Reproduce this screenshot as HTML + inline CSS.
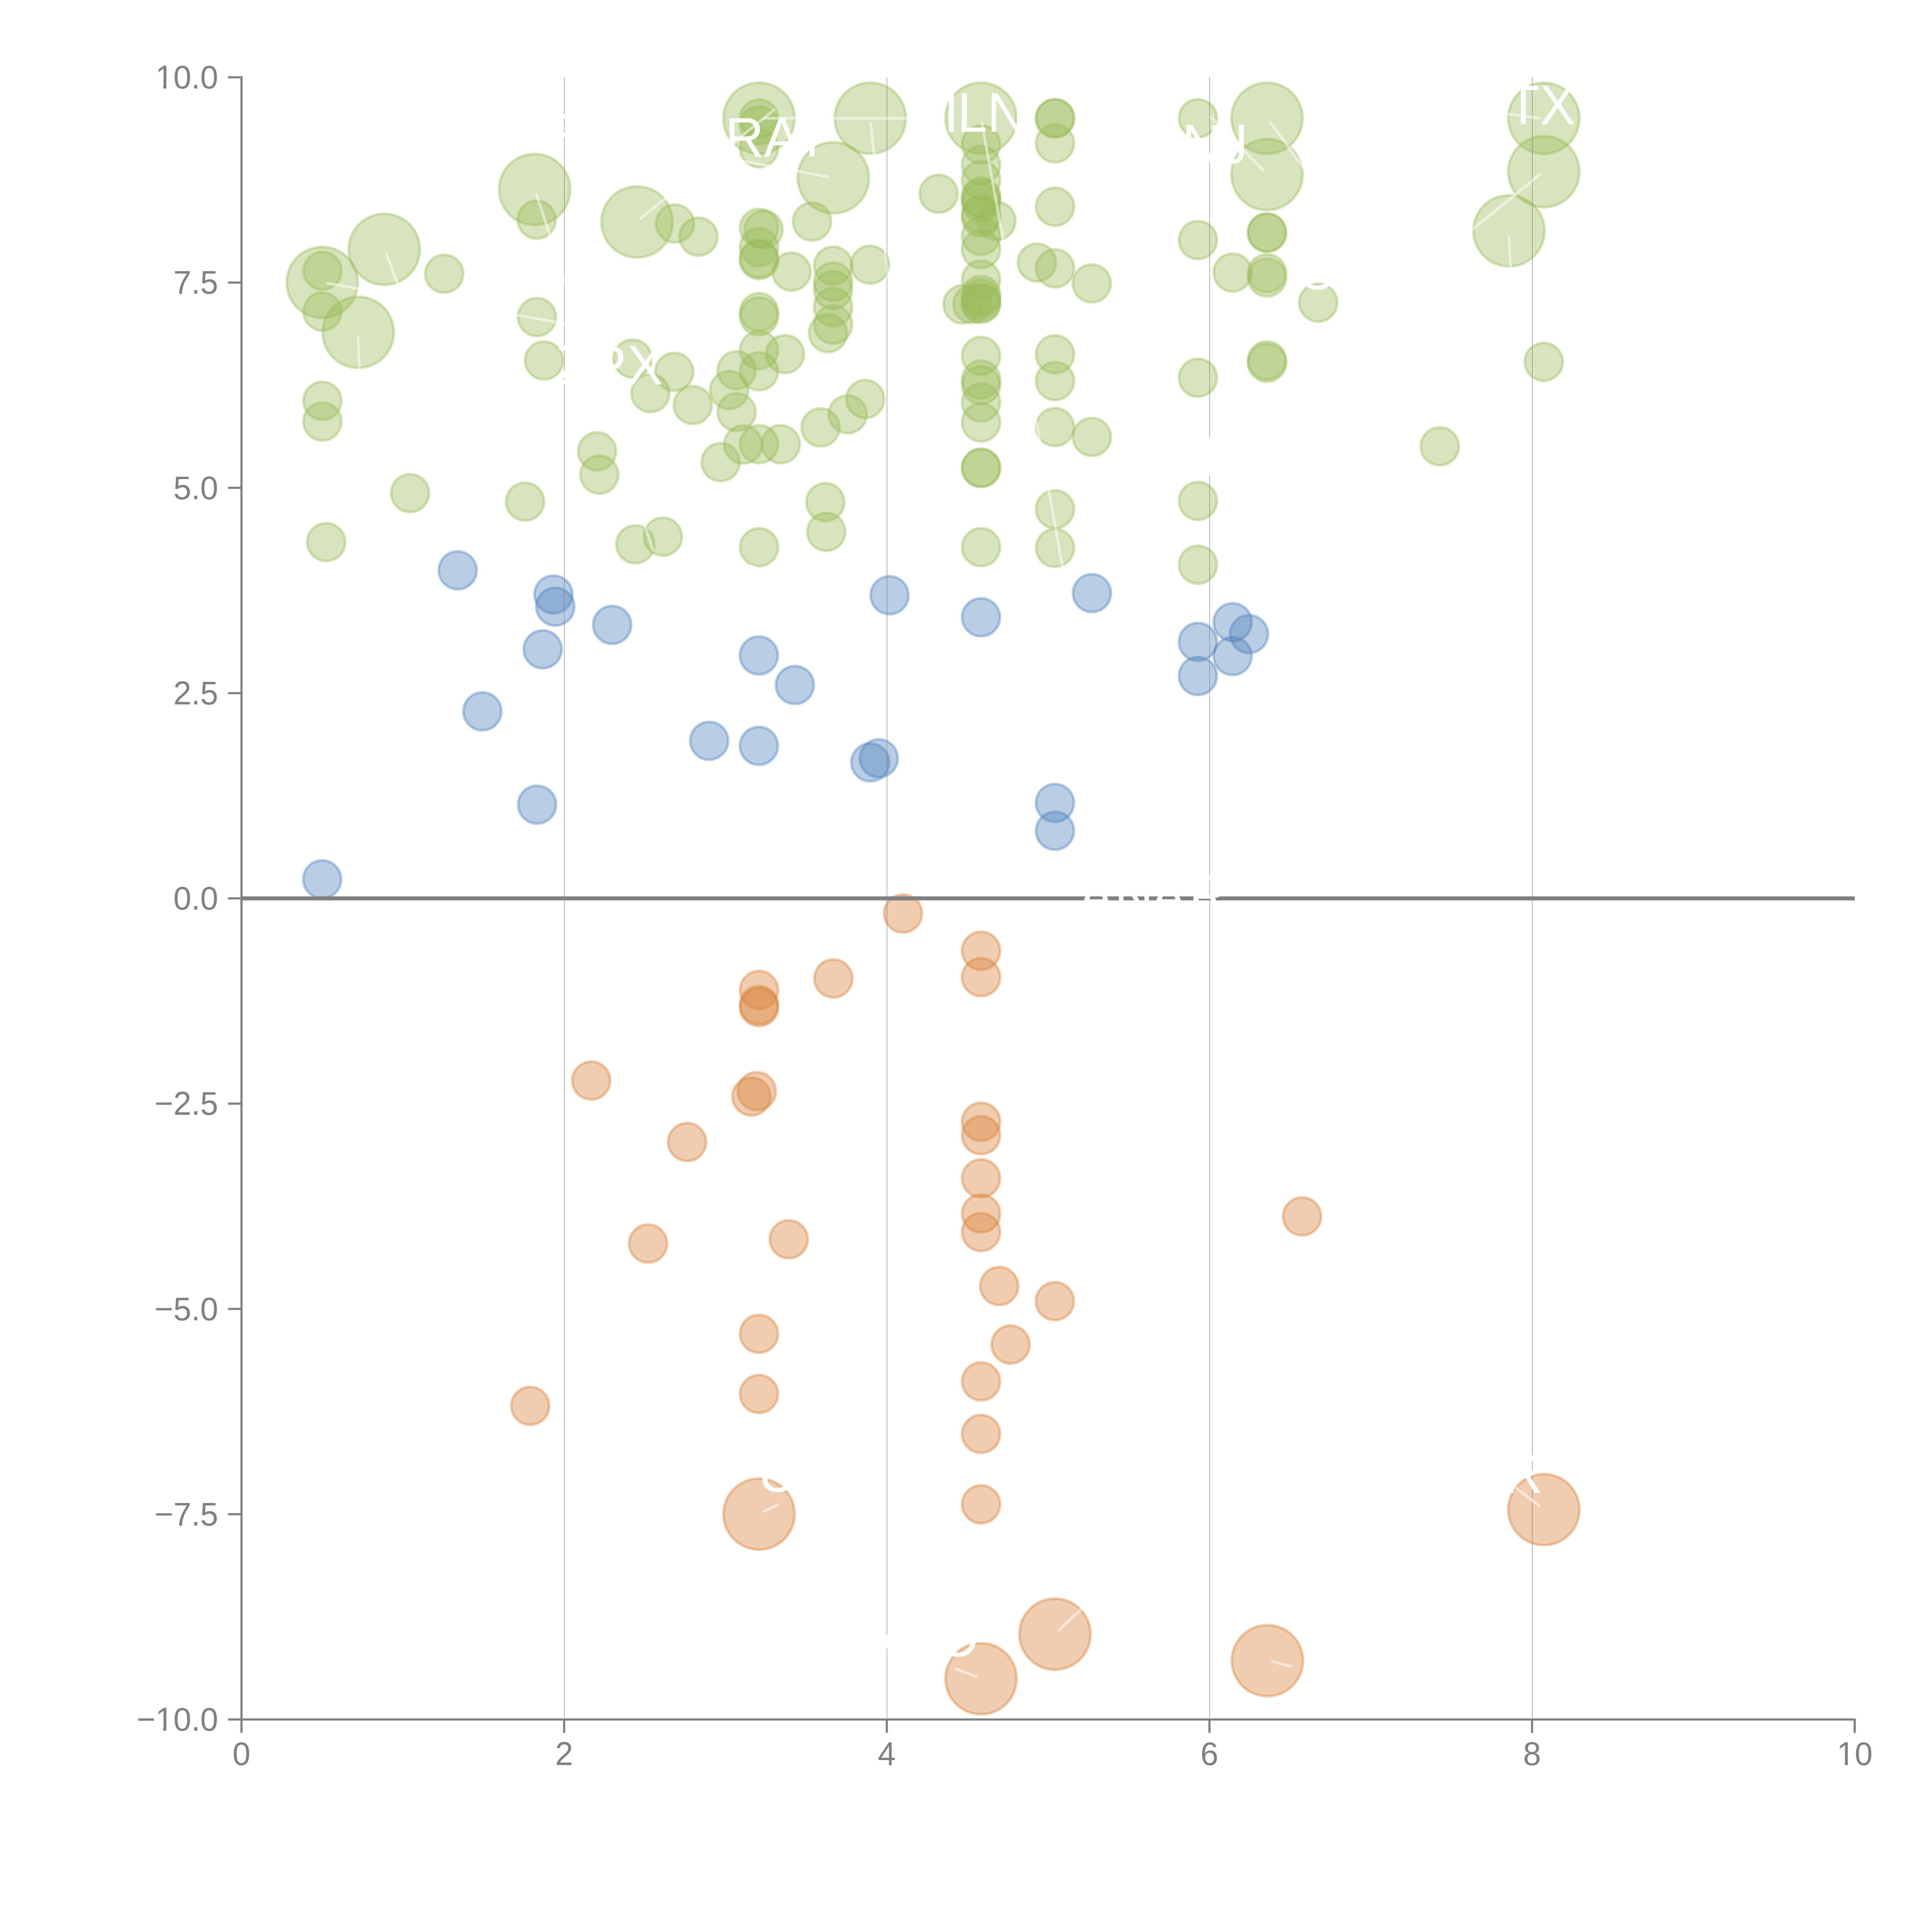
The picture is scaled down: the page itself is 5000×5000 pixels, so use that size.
<!DOCTYPE html>
<html lang="en"><head><meta charset="utf-8"><title>Bubble chart</title>
<style>html,body{margin:0;padding:0;background:#fff}body{width:5000px;height:5000px;overflow:hidden}svg{display:block}text{font-family:"Liberation Sans",Arial,Helvetica,sans-serif}.tk{font-size:83.33px;fill:#808080}.lb{font-size:138.9px;fill:#fff}.g{fill:#9BBB59;stroke:#9BBB59}.b{fill:#4F81BD;stroke:#4F81BD}.o{fill:#DA8239;stroke:#DA8239}.g,.b,.o{fill-opacity:0.4;stroke-opacity:0.4;stroke-width:7}.ln{stroke:#fff;stroke-opacity:.5;stroke-width:7;stroke-linecap:round;fill:none}</style></head><body>
<svg xmlns="http://www.w3.org/2000/svg" width="5000" height="5000" viewBox="0 0 5000 5000">
<rect width="5000" height="5000" fill="#fff"/>
<g class="g"><circle cx="834.0" cy="731.0" r="92"/><circle cx="994.6" cy="645.2" r="92"/><circle cx="927.1" cy="860.0" r="92"/><circle cx="1383.7" cy="490.4" r="92"/><circle cx="1648.7" cy="574.4" r="92"/><circle cx="1964.4" cy="306.0" r="92"/><circle cx="2252.2" cy="306.0" r="92"/><circle cx="2156.6" cy="460.3" r="92"/><circle cx="2538.9" cy="306.0" r="92"/><circle cx="3279.0" cy="306.1" r="92"/><circle cx="3279.0" cy="451.7" r="92"/><circle cx="3995.4" cy="306.3" r="92"/><circle cx="3995.4" cy="444.2" r="92"/><circle cx="3905.2" cy="597.4" r="92"/></g>
<g class="g"><circle cx="834.4" cy="700.7" r="49"/><circle cx="834.4" cy="806.3" r="49"/><circle cx="1149.6" cy="708.4" r="49"/><circle cx="1388.9" cy="568.6" r="49"/><circle cx="1389.5" cy="820.5" r="49"/><circle cx="1408.0" cy="933.0" r="49"/><circle cx="834.4" cy="1037.3" r="49"/><circle cx="834.4" cy="1091.1" r="49"/><circle cx="1061.3" cy="1276.2" r="49"/><circle cx="844.2" cy="1403.0" r="49"/><circle cx="1358.8" cy="1298.3" r="49"/><circle cx="1746.8" cy="578.6" r="49"/><circle cx="1807.7" cy="612.5" r="49"/><circle cx="1964.4" cy="306.8" r="49"/><circle cx="1964.4" cy="324.4" r="49"/><circle cx="1964.4" cy="383.7" r="49"/><circle cx="1964.4" cy="589.7" r="49"/><circle cx="1976.0" cy="594.2" r="49"/><circle cx="1964.4" cy="639.5" r="49"/><circle cx="1964.4" cy="669.3" r="49"/><circle cx="1964.4" cy="673.2" r="49"/><circle cx="1964.4" cy="807.7" r="49"/><circle cx="1964.4" cy="818.6" r="49"/><circle cx="1964.4" cy="906.1" r="49"/><circle cx="1964.4" cy="961.0" r="49"/><circle cx="1964.4" cy="1149.5" r="49"/><circle cx="1964.4" cy="1416.2" r="49"/><circle cx="2101.5" cy="573.4" r="49"/><circle cx="2048.5" cy="702.9" r="49"/><circle cx="2031.6" cy="916.4" r="49"/><circle cx="1906.3" cy="958.3" r="49"/><circle cx="1886.9" cy="1009.5" r="49"/><circle cx="1906.3" cy="1066.7" r="49"/><circle cx="1637.0" cy="928.0" r="49"/><circle cx="1744.9" cy="962.3" r="49"/><circle cx="1683.3" cy="1017.4" r="49"/><circle cx="1792.8" cy="1048.2" r="49"/><circle cx="1923.3" cy="1150.5" r="49"/><circle cx="2020.7" cy="1149.6" r="49"/><circle cx="1865.0" cy="1196.0" r="49"/><circle cx="1545.3" cy="1168.1" r="49"/><circle cx="1551.1" cy="1228.3" r="49"/><circle cx="1644.2" cy="1408.7" r="49"/><circle cx="1715.6" cy="1388.8" r="49"/><circle cx="2156.0" cy="687.4" r="49"/><circle cx="2156.0" cy="728.8" r="49"/><circle cx="2156.0" cy="750.8" r="49"/><circle cx="2156.0" cy="794.8" r="49"/><circle cx="2156.0" cy="840.1" r="49"/><circle cx="2142.9" cy="862.1" r="49"/><circle cx="2251.6" cy="685.0" r="49"/><circle cx="2239.3" cy="1032.7" r="49"/><circle cx="2193.8" cy="1072.3" r="49"/><circle cx="2123.6" cy="1106.1" r="49"/><circle cx="2135.9" cy="1299.6" r="49"/><circle cx="2138.4" cy="1376.4" r="49"/><circle cx="2429.2" cy="501.4" r="49"/><circle cx="2539.0" cy="373.6" r="49"/><circle cx="2539.0" cy="427.2" r="49"/><circle cx="2539.0" cy="466.2" r="49"/><circle cx="2539.0" cy="509.2" r="49"/><circle cx="2539.0" cy="513.9" r="49"/><circle cx="2539.0" cy="523.8" r="49"/><circle cx="2539.0" cy="554.8" r="49"/><circle cx="2539.0" cy="563.0" r="49"/><circle cx="2578.8" cy="571.8" r="49"/><circle cx="2539.0" cy="610.4" r="49"/><circle cx="2539.0" cy="645.3" r="49"/><circle cx="2539.0" cy="723.7" r="49"/><circle cx="2539.0" cy="763.2" r="49"/><circle cx="2539.0" cy="772.5" r="49"/><circle cx="2539.0" cy="782.3" r="49"/><circle cx="2539.0" cy="786.5" r="49"/><circle cx="2516.5" cy="787.0" r="49"/><circle cx="2491.0" cy="787.8" r="49"/><circle cx="2539.0" cy="920.9" r="49"/><circle cx="2539.0" cy="982.5" r="49"/><circle cx="2539.0" cy="996.7" r="49"/><circle cx="2539.0" cy="1041.4" r="49"/><circle cx="2539.0" cy="1093.2" r="49"/><circle cx="2539.0" cy="1210.8" r="49"/><circle cx="2539.0" cy="1210.8" r="49"/><circle cx="2539.0" cy="1416.0" r="49"/><circle cx="2730.4" cy="306.0" r="49"/><circle cx="2730.4" cy="306.0" r="49"/><circle cx="2730.4" cy="371.0" r="49"/><circle cx="2730.4" cy="535.0" r="49"/><circle cx="2730.4" cy="694.5" r="49"/><circle cx="2730.4" cy="917.0" r="49"/><circle cx="2730.4" cy="986.2" r="49"/><circle cx="2730.4" cy="1105.3" r="49"/><circle cx="2730.4" cy="1317.9" r="49"/><circle cx="2730.4" cy="1418.0" r="49"/><circle cx="2683.5" cy="679.5" r="49"/><circle cx="2825.5" cy="733.5" r="49"/><circle cx="2825.8" cy="1130.7" r="49"/><circle cx="3100.3" cy="306.1" r="49"/><circle cx="3100.3" cy="621.3" r="49"/><circle cx="3100.3" cy="977.5" r="49"/><circle cx="3100.3" cy="1296.4" r="49"/><circle cx="3100.3" cy="1461.4" r="49"/><circle cx="3279.0" cy="602.1" r="49"/><circle cx="3279.0" cy="602.1" r="49"/><circle cx="3279.0" cy="707.2" r="49"/><circle cx="3279.0" cy="718.0" r="49"/><circle cx="3279.0" cy="932.7" r="49"/><circle cx="3279.0" cy="938.7" r="49"/><circle cx="3190.2" cy="705.4" r="49"/><circle cx="3411.5" cy="783.2" r="49"/><circle cx="3995.3" cy="936.5" r="49"/><circle cx="3726.1" cy="1155.2" r="49"/></g>
<g class="b"><circle cx="1184.5" cy="1476.0" r="49"/><circle cx="1432.3" cy="1538.4" r="49"/><circle cx="1437.1" cy="1570.0" r="49"/><circle cx="1404.5" cy="1680.4" r="49"/><circle cx="1248.4" cy="1841.1" r="49"/><circle cx="1390.0" cy="2082.4" r="49"/><circle cx="833.8" cy="2275.8" r="49"/><circle cx="1584.3" cy="1617.2" r="49"/><circle cx="1964.0" cy="1696.3" r="49"/><circle cx="2057.1" cy="1772.8" r="49"/><circle cx="1835.4" cy="1917.2" r="49"/><circle cx="1964.0" cy="1930.3" r="49"/><circle cx="2274.2" cy="1962.4" r="49"/><circle cx="2252.3" cy="1973.1" r="49"/><circle cx="2302.2" cy="1540.6" r="49"/><circle cx="2538.8" cy="1597.5" r="49"/><circle cx="2826.0" cy="1535.0" r="49"/><circle cx="3190.1" cy="1610.2" r="49"/><circle cx="3232.4" cy="1641.0" r="49"/><circle cx="3100.2" cy="1661.3" r="49"/><circle cx="3190.0" cy="1697.8" r="49"/><circle cx="3100.1" cy="1749.5" r="49"/><circle cx="2730.3" cy="2077.9" r="49"/><circle cx="2730.3" cy="2150.1" r="49"/></g>
<g class="o"><circle cx="1964.4" cy="3918.5" r="92"/><circle cx="3995.5" cy="3906.8" r="92"/><circle cx="2539.0" cy="4344.5" r="92"/><circle cx="2730.3" cy="4229.2" r="92"/><circle cx="3280.0" cy="4297.7" r="92"/></g>
<g class="o"><circle cx="2337.0" cy="2364.2" r="49"/><circle cx="2156.7" cy="2532.3" r="49"/><circle cx="1964.4" cy="2562.1" r="49"/><circle cx="1964.4" cy="2601.0" r="49"/><circle cx="1964.4" cy="2606.5" r="49"/><circle cx="1958.5" cy="2824.0" r="49"/><circle cx="1944.7" cy="2837.7" r="49"/><circle cx="1778.3" cy="2955.6" r="49"/><circle cx="1530.2" cy="2796.5" r="49"/><circle cx="2539.0" cy="2460.6" r="49"/><circle cx="2539.0" cy="2529.0" r="49"/><circle cx="2539.0" cy="2903.1" r="49"/><circle cx="2539.0" cy="2938.0" r="49"/><circle cx="2539.0" cy="3049.4" r="49"/><circle cx="2539.0" cy="3140.5" r="49"/><circle cx="2539.0" cy="3188.5" r="49"/><circle cx="2539.0" cy="3575.1" r="49"/><circle cx="2539.0" cy="3711.1" r="49"/><circle cx="2539.0" cy="3893.2" r="49"/><circle cx="2586.0" cy="3328.3" r="49"/><circle cx="2730.0" cy="3367.4" r="49"/><circle cx="2615.4" cy="3479.7" r="49"/><circle cx="1677.2" cy="3218.3" r="49"/><circle cx="2041.4" cy="3207.3" r="49"/><circle cx="1964.3" cy="3452.0" r="49"/><circle cx="1964.3" cy="3607.6" r="49"/><circle cx="1372.2" cy="3638.4" r="49"/><circle cx="3369.8" cy="3148.0" r="49"/></g>
<g fill="#808080">
<rect x="1459.9" y="200" width="1.2" height="4250"/>
<rect x="2294.9" y="200" width="1.2" height="4250"/>
<rect x="3129.9" y="200" width="1.2" height="4250"/>
<rect x="3964.9" y="200" width="1.2" height="4250"/>
</g>
<rect x="625" y="2319.8" width="4175" height="10.4" fill="#808080"/>
<g fill="#808080">
<rect x="622.2" y="197.2" width="5.6" height="4255.6"/>
<rect x="622.2" y="4447.2" width="4180.6" height="5.6"/>
<rect x="590.3" y="197.2" width="34.7" height="5.6"/>
<rect x="590.3" y="728.5" width="34.7" height="5.6"/>
<rect x="590.3" y="1259.7" width="34.7" height="5.6"/>
<rect x="590.3" y="1791.0" width="34.7" height="5.6"/>
<rect x="590.3" y="2322.2" width="34.7" height="5.6"/>
<rect x="590.3" y="2853.4" width="34.7" height="5.6"/>
<rect x="590.3" y="3384.7" width="34.7" height="5.6"/>
<rect x="590.3" y="3915.9" width="34.7" height="5.6"/>
<rect x="590.3" y="4447.2" width="34.7" height="5.6"/>
<rect x="622.2" y="4450" width="5.6" height="34.7"/>
<rect x="1457.2" y="4450" width="5.6" height="34.7"/>
<rect x="2292.2" y="4450" width="5.6" height="34.7"/>
<rect x="3127.2" y="4450" width="5.6" height="34.7"/>
<rect x="3962.2" y="4450" width="5.6" height="34.7"/>
<rect x="4797.2" y="4450" width="5.6" height="34.7"/>
</g>
<g class="tk" text-anchor="end">
<text transform="translate(564.5,229.0) scale(1,1.032)">10.0</text>
<text transform="translate(564.5,760.2) scale(1,1.032)">7.5</text>
<text transform="translate(564.5,1291.5) scale(1,1.032)">5.0</text>
<text transform="translate(564.5,1822.8) scale(1,1.032)">2.5</text>
<text transform="translate(564.5,2354.0) scale(1,1.032)">0.0</text>
<text transform="translate(564.5,2885.2) scale(1,1.032)">−2.5</text>
<text transform="translate(564.5,3416.5) scale(1,1.032)">−5.0</text>
<text transform="translate(564.5,3947.8) scale(1,1.032)">−7.5</text>
<text transform="translate(564.5,4479.0) scale(1,1.032)">−10.0</text>
</g><g class="tk" text-anchor="middle">
<text transform="translate(625.0,4567.5) scale(1,1.032)">0</text>
<text transform="translate(1460.0,4567.5) scale(1,1.032)">2</text>
<text transform="translate(2295.0,4567.5) scale(1,1.032)">4</text>
<text transform="translate(3130.0,4567.5) scale(1,1.032)">6</text>
<text transform="translate(3965.0,4567.5) scale(1,1.032)">8</text>
<text transform="translate(4800.0,4567.5) scale(1,1.032)">10</text>
</g>
<g fill="#fff">
<rect x="405.5" y="221.0" width="16.9" height="10.0"/>
<rect x="430.5" y="221.0" width="16.0" height="10.0"/>
<rect x="405.5" y="4471.0" width="16.9" height="10.0"/>
<rect x="430.5" y="4471.0" width="16.0" height="10.0"/>
<rect x="4756.5" y="4560.3" width="17.9" height="10.0"/>
<rect x="4782.5" y="4560.3" width="15.5" height="10.0"/>
</g>
<defs><clipPath id="cj"><path d="M3205.6 300H3240V440H3150V346H3205.6Z"/></clipPath></defs>
<g class="ln">
<line x1="847.4" y1="733.2" x2="1470.0" y2="838.2"/>
<line x1="1000.1" y1="657.6" x2="1031.0" y2="739.6"/>
<line x1="926.9" y1="873.2" x2="930.2" y2="960.0"/>
<line x1="1388.3" y1="503.0" x2="1689.9" y2="1423.5"/>
<line x1="1658.5" y1="565.2" x2="2003.8" y2="283.9"/>
<line x1="1977.4" y1="306.0" x2="2435.0" y2="306.0"/>
<line x1="2142.9" y1="457.8" x2="1440.0" y2="327.6"/>
<line x1="2253.3" y1="319.7" x2="2300.5" y2="735.0"/>
<line x1="2541.3" y1="319.6" x2="2752.4" y2="1480.0"/>
<line x1="3270.3" y1="441.6" x2="3134.9" y2="303.7"/>
<line x1="3287.2" y1="316.6" x2="3380.0" y2="442.8"/>
<line x1="3982.0" y1="305.6" x2="3893.0" y2="293.9"/>
<line x1="3985.0" y1="452.0" x2="3800.0" y2="602.0"/>
<line x1="3905.2" y1="610.6" x2="3909.8" y2="700.0"/>
<line x1="1976.5" y1="3911.6" x2="2012.9" y2="3894.1"/>
<line x1="2526.3" y1="4338.9" x2="2473.2" y2="4318.4"/>
<line x1="2739.8" y1="4219.0" x2="2810.0" y2="4153.6"/>
<line x1="3292.4" y1="4299.9" x2="3342.0" y2="4312.8"/>
<line x1="3984.5" y1="3897.7" x2="3915.0" y2="3844.5"/>
</g>
<g class="lb">
<text transform="translate(1876.8,405.3) scale(1,1.047)" x="0.0">RAT</text>
<text transform="translate(2442.7,341.0) scale(1,1.047)" x="0.0 35.0 112.4">ILN</text>
<text transform="translate(3059.6,422.7) scale(1,1.047)" x="0.0">N</text>
<g clip-path="url(#cj)"><text transform="translate(3159.9,422.7) scale(1,1.047)" x="0.0">J</text></g>
<text transform="translate(3900.1,321.5) scale(1,1.047)" x="0.0">TX</text>
<text transform="translate(1437.5,995.2) scale(1,1.047)" x="0.0 90.5 185.8">ZPX</text>
<text transform="translate(2790.4,2367.0) scale(1,1.047)" x="0.0 94.0 187.6 287.0">ANAR</text>
<text transform="translate(1962.2,3860.5) scale(1,1.047)" x="0.0">U</text>
<text transform="translate(2425.6,4286.7) scale(1,1.047)" x="0.0">O</text>
<text transform="translate(3892.7,3863.1) scale(1,1.047)" x="0.0">R</text>
<text transform="translate(1881.0,1564.0) scale(1,1.047)" x="0.0">O</text>
<text transform="translate(3355.5,748.5) scale(1,1.047)" x="0.0">O</text>
<text transform="translate(3111.2,1232.0) scale(1,1.047)" x="0.0">I</text>
<text transform="translate(1415.0,394.6) scale(1,1.047)" x="0.0">F</text>
<text transform="translate(2273.6,4286.7) scale(1,1.047)" x="0.0">A</text>
</g>
</svg></body></html>
